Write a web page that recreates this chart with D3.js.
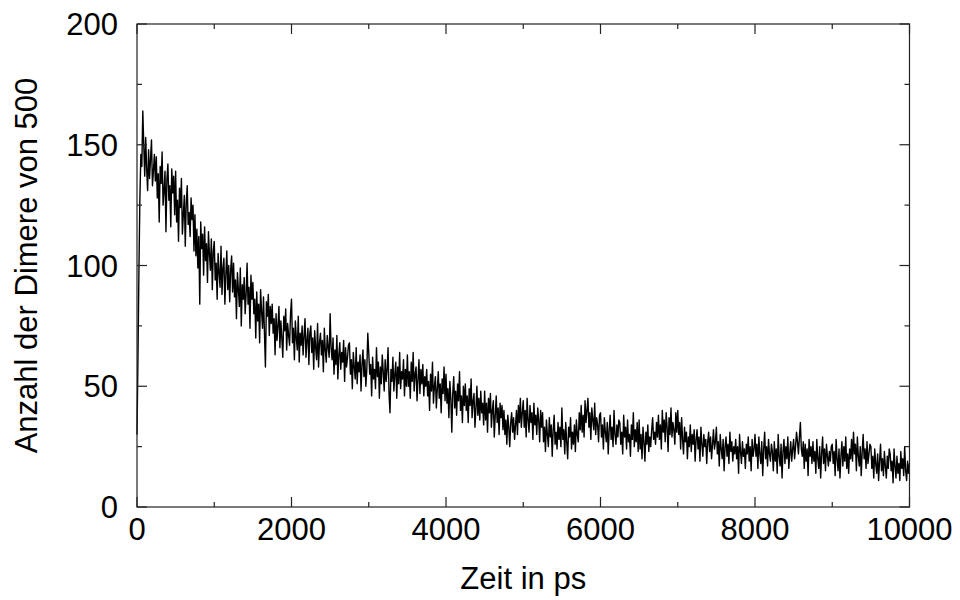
<!DOCTYPE html>
<html><head><meta charset="utf-8">
<script src="https://cdn.jsdelivr.net/npm/d3@7"></script>
<style>body{margin:0;background:#fff}svg{display:block}text{font-family:"Liberation Sans",Arial,sans-serif;fill:#000}</style>
</head><body>
<script>
const timeStep = 12.5; // ps between samples
const dimers = [
30,62,98,128,146,141,164,150,137,153,140,131,148,136,144,152,133,139,146,135,
145,128,138,118,141,134,147,125,131,139,114,136,142,127,133,116,140,130,137,121,
139,118,127,110,132,124,136,113,121,129,108,126,133,117,122,112,128,119,125,106,
121,104,115,99,112,84,118,107,113,96,116,102,109,93,114,105,98,111,90,106,
110,94,101,86,105,97,91,108,88,99,103,84,96,106,90,100,85,98,104,89,
101,87,94,78,97,90,83,99,75,92,86,95,80,88,101,84,91,74,96,86,
93,80,86,70,89,77,84,68,90,81,74,87,72,58,85,79,88,71,83,76,
84,72,78,63,80,69,75,83,66,77,70,62,79,73,82,65,76,71,67,80,
86,68,74,61,77,70,65,79,60,72,67,75,63,71,78,62,69,74,59,72,
75,64,70,57,73,66,61,76,58,68,72,63,69,56,74,65,60,71,66,62,
80,66,61,70,55,65,59,71,53,63,68,57,64,60,69,52,66,58,62,67,
68,55,61,49,64,58,53,66,51,60,56,63,48,59,65,54,61,50,57,72,
64,55,59,46,62,53,57,49,66,54,60,45,58,51,63,56,48,61,52,57,
66,47,39,57,52,62,48,55,60,45,58,51,64,49,56,53,61,46,57,50,
63,50,56,45,60,52,64,48,55,58,44,53,61,47,57,51,59,46,54,50,
57,46,52,40,55,48,60,43,50,54,41,49,56,45,51,39,53,47,58,44,
55,43,49,37,52,45,31,47,54,41,48,38,51,44,56,40,46,35,50,42,
51,40,46,35,49,42,53,37,44,47,33,41,50,38,45,36,48,39,43,34,
48,36,43,31,45,39,47,33,40,44,29,38,46,35,41,30,43,37,42,32,
40,30,36,26,38,33,25,35,39,31,37,28,34,40,30,42,35,45,33,39,
44,33,40,29,45,36,31,42,35,39,28,43,34,38,30,41,36,27,40,33,
39,27,33,23,36,30,25,37,29,34,21,32,38,26,31,24,35,28,33,25,
41,28,32,22,35,27,20,33,29,37,24,31,26,34,23,36,30,27,39,32,
42,31,38,29,44,35,40,45,33,39,28,41,36,32,43,30,37,34,27,38,
39,29,34,24,37,31,27,35,22,32,38,28,33,25,40,30,26,34,29,36,
35,26,31,22,38,29,33,24,36,27,30,21,34,28,39,25,32,27,35,23,
36,24,30,20,33,27,19,31,26,34,23,29,25,32,37,28,31,26,35,29,
38,28,34,24,40,31,36,27,39,33,23,37,30,41,29,35,32,26,39,31,
40,30,35,24,37,28,22,33,27,31,20,29,25,34,23,30,26,32,19,28,
32,24,29,19,33,26,21,30,25,28,18,27,31,23,29,20,26,32,24,27,
33,22,27,17,30,24,20,28,15,25,29,21,26,18,31,23,27,19,25,22,
28,20,25,14,30,23,18,27,21,24,16,26,22,29,19,25,15,28,21,24,
30,21,26,16,29,22,18,27,13,24,31,20,25,17,28,22,19,26,23,15,
27,19,24,14,30,21,17,26,12,23,28,18,25,20,29,16,22,27,19,24,
28,20,25,31,27,22,29,35,24,21,27,16,26,19,24,13,28,21,25,18,
27,19,23,14,28,20,16,25,12,22,29,18,24,15,26,21,17,23,19,25,
26,18,23,13,28,20,15,24,12,21,27,17,25,19,29,16,22,14,24,20,
28,19,31,22,26,15,29,21,17,25,13,23,30,20,24,16,27,18,22,26,
25,16,21,12,24,18,14,22,11,19,26,15,20,13,23,17,12,21,16,24,
22,15,19,10,24,17,12,21,14,18,11,23,16,20,13,25,15,11,19,14,
18
];
const xTicks = [0, 2000, 4000, 6000, 8000, 10000];
const yTicks = [0, 50, 100, 150, 200];
const xLabel = "Zeit in ps";
const yLabel = "Anzahl der Dimere von 500";

const W = 960, H = 600;
const L = 137, R = 909.5, T = 24, B = 507;
const svg = d3.select("body").append("svg").attr("width", W).attr("height", H);
svg.append("rect").attr("width", W).attr("height", H).attr("fill", "#fff");

const x = d3.scaleLinear().domain([0, 10000]).range([L, R]);
const y = d3.scaleLinear().domain([0, 200]).range([B, T]);

const data = dimers.map((v, i) => ({t: i * timeStep, v}));

// line
svg.append("path").datum(data)
  .attr("fill", "none").attr("stroke", "#000").attr("stroke-width", 1.4)
  .attr("stroke-linejoin", "round")
  .attr("d", d3.line().x(d => x(d.t)).y(d => y(d.v)));

// frame
svg.append("rect").attr("x", L).attr("y", T).attr("width", R - L).attr("height", B - T)
  .attr("fill", "none").attr("stroke", "#222").attr("stroke-width", 1.2);

const major = 10, minor = 5;
const xMinor = d3.range(1000, 10000, 2000);
const yMinor = d3.range(25, 200, 50);
const g = svg.append("g").attr("stroke", "#222").attr("stroke-width", 1.2);
xTicks.forEach(t => {
  g.append("line").attr("x1", x(t)).attr("x2", x(t)).attr("y1", B).attr("y2", B - major);
  g.append("line").attr("x1", x(t)).attr("x2", x(t)).attr("y1", T).attr("y2", T + major);
});
xMinor.forEach(t => {
  g.append("line").attr("x1", x(t)).attr("x2", x(t)).attr("y1", B).attr("y2", B - minor);
  g.append("line").attr("x1", x(t)).attr("x2", x(t)).attr("y1", T).attr("y2", T + minor);
});
yTicks.forEach(v => {
  g.append("line").attr("y1", y(v)).attr("y2", y(v)).attr("x1", L).attr("x2", L + major);
  g.append("line").attr("y1", y(v)).attr("y2", y(v)).attr("x1", R).attr("x2", R - major);
});
yMinor.forEach(v => {
  g.append("line").attr("y1", y(v)).attr("y2", y(v)).attr("x1", L).attr("x2", L + minor);
  g.append("line").attr("y1", y(v)).attr("y2", y(v)).attr("x1", R).attr("x2", R - minor);
});

const fs = 31;
svg.selectAll(".xt").data(xTicks).enter().append("text")
  .attr("x", d => x(d)).attr("y", 540).attr("text-anchor", "middle")
  .attr("font-size", fs).text(d => d);
svg.selectAll(".yt").data(yTicks).enter().append("text")
  .attr("x", 118).attr("y", d => y(d) + 11).attr("text-anchor", "end")
  .attr("font-size", fs).text(d => d);
svg.append("text").attr("x", (L + R) / 2).attr("y", 589).attr("text-anchor", "middle")
  .attr("font-size", fs).text(xLabel);
svg.append("text").attr("transform", `translate(37,${(T + B) / 2}) rotate(-90)`)
  .attr("text-anchor", "middle").attr("font-size", fs).text(yLabel);
</script>
</body></html>
